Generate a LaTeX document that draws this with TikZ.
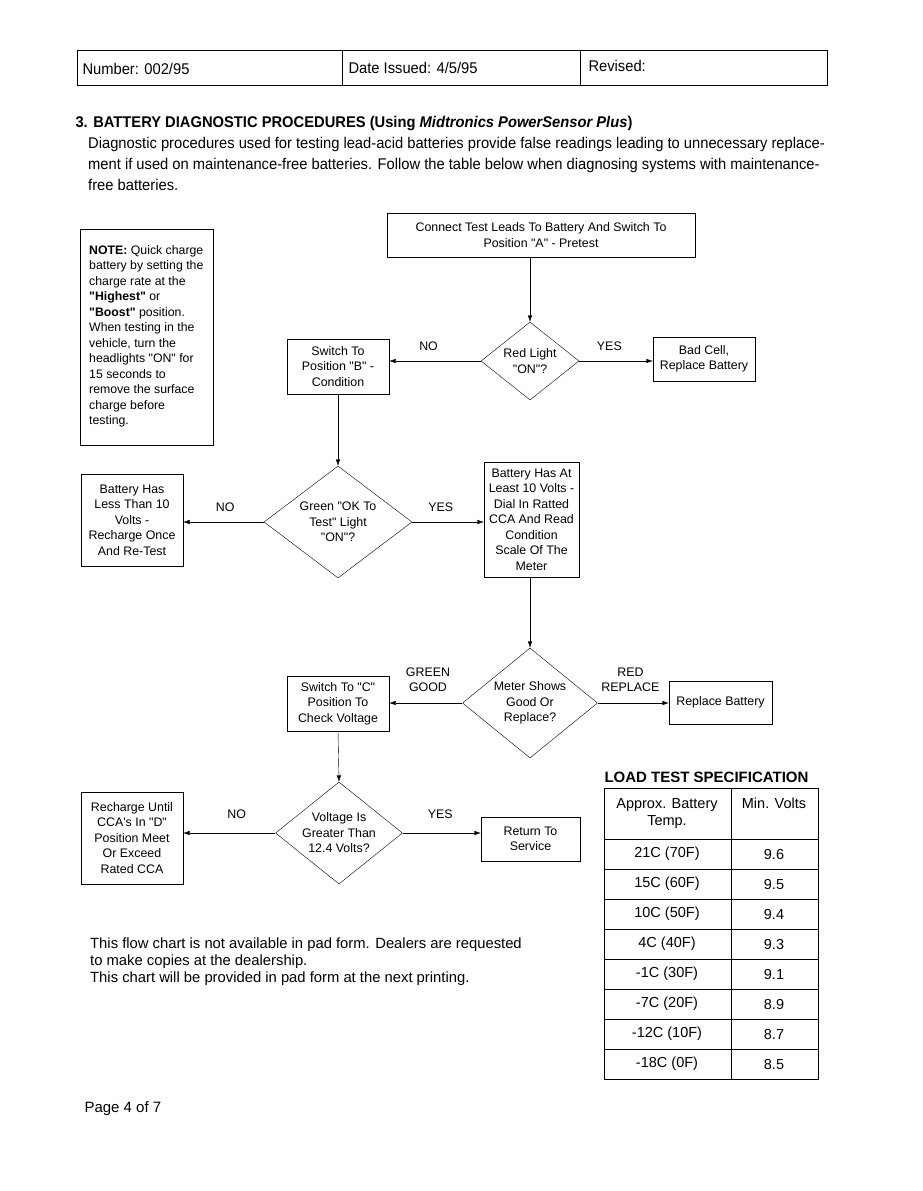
\documentclass[tikz,border=0pt]{standalone}
\usepackage{fontspec}
\setmainfont{Liberation Sans}[Ligatures=TeXOff]
\newfontfamily\narrowfont[FakeStretch=0.95,Ligatures=TeXOff]{Liberation Sans}
\usetikzlibrary{arrows.meta,calc,shapes.geometric}

\tikzset{
  stepbox/.style={draw, thin, align=center, inner sep=0pt, font=\fontsize{12.4}{15.5}\selectfont},
  query/.style={draw, thin, diamond, inner sep=0pt},
  querytext/.style={align=center, inner sep=0pt, font=\fontsize{12.4}{15.5}\selectfont},
  flow/.style={thin, -{Latex[length=6.5pt,width=4.5pt]}},
  answer/.style={font=\fontsize{12.4}{15}\selectfont, align=center},
  cell/.style={font=\fontsize{14.5}{17}\selectfont, align=center},
}
\newcommand{\stepnode}[6]{%
  % name, left, top, right, bottom, text.
  \node[stepbox, minimum width={#4-#2}, minimum height={#5-#3}] (#1) at ({(#2+#4)/2},{(#3+#5)/2}) {#6};
}
\newcommand{\querynode}[6]{%
  % name, x, y, width, height, text.
  \node[query, minimum width=#4, minimum height=#5] (#1) at (#2,#3) {};
  \node[querytext] (#1-text) at (#1) {#6};
}

\begin{document}
\begin{tikzpicture}[x=1pt,y=-1pt]
  \useasboundingbox (0,0) rectangle (923,1191);
  \fill[white] (0,0) rectangle (923,1191);

  % page header
  \draw[thin] (77,50) rectangle (827,85);
  \draw[thin] (342,50) -- (342,85);
  \draw[thin] (580,50) -- (580,85);
  \node[anchor=base west, font=\narrowfont\fontsize{15.5}{17}\selectfont] (num) at (79,74) {Number: 002/95};
  \node[anchor=base west, font=\narrowfont\fontsize{15.5}{17}\selectfont] (date) at (345,73) {Date Issued: 4/5/95};
  \node[anchor=base west, font=\narrowfont\fontsize{15.5}{17}\selectfont] (rev) at (585,71) {Revised:};

  % title and text
  \node[anchor=base west, font=\narrowfont\bfseries\fontsize{15.5}{17}\selectfont] (title) at (72,127)
    {3. BATTERY DIAGNOSTIC PROCEDURES (Using \textit{Midtronics PowerSensor Plus})};
  \node[anchor=north west, align=left, inner sep=0pt, font=\narrowfont\fontsize{15.5}{21}\selectfont] (intro) at (88,137)
    {Diagnostic procedures used for testing lead-acid batteries provide false readings leading to unnecessary replace-\\
     ment if used on maintenance-free batteries. Follow the table below when diagnosing systems with maintenance-\\
     free batteries.};

  % note
  \draw[thin] (80,229) rectangle (213,445);
  \node[anchor=north west, align=left, inner sep=0pt, font=\fontsize{12.3}{15.5}\selectfont] (note) at (89,245)
    {\textbf{NOTE:} Quick charge\\ battery by setting the\\ charge rate at the\\ \textbf{"Highest"} or\\
     \textbf{"Boost"} position.\\ When testing in the\\ vehicle, turn the\\ headlights "ON" for\\
     15 seconds to\\ remove the surface\\ charge before\\ testing.};

  % flow chart
  \stepnode{lead}{387}{213}{695}{257}{Connect Test Leads To Battery And Switch To\\Position "A" - Pretest}
  \querynode{red}{530}{361}{98}{78}{Red Light\\"ON"?}
  \stepnode{bad}{653}{337}{755}{381}{Bad Cell,\\Replace Battery}
  \stepnode{posb}{287}{339}{389}{394}{Switch To\\Position "B" -\\Condition}
  \querynode{green}{338}{522}{148}{112}{Green "OK To\\Test" Light\\"ON"?}
  \stepnode{less}{81}{474}{183}{566}{Battery Has\\Less Than 10\\Volts -\\Recharge Once\\And Re-Test}
  \stepnode{least}{484}{462}{579}{577}{Battery Has At\\Least 10 Volts -\\Dial In Ratted\\CCA And Read\\Condition\\Scale Of The\\Meter}
  \querynode{meter}{530}{703}{135}{110}{Meter Shows\\Good Or\\Replace?}
  \stepnode{posc}{287}{676}{389}{731}{Switch To "C"\\Position To\\Check Voltage}
  \stepnode{repl}{669}{681}{772}{724}{Replace Battery}
  \querynode{volt}{339}{833}{127}{102}{Voltage Is\\Greater Than\\12.4 Volts?}
  \stepnode{rech}{81}{792}{183}{884}{Recharge Until\\CCA's In "D"\\Position Meet\\Or Exceed\\Rated CCA}
  \stepnode{serv}{481}{817}{580}{861}{Return To\\Service}

  \draw[flow] (red.north |- lead.south) -- (red.north);
  \draw[flow] (red.west) -- node[answer, pos=0.57, above=7pt] (redno) {NO} (red.west -| posb.east);
  \draw[flow] (red.east) -- node[answer, pos=0.41, above=7pt] (redyes) {YES} (red.east -| bad.west);
  \draw[flow] (posb.south) -- (green.north);
  \draw[flow] (green.west) -- node[answer, pos=0.48, above=7pt] (greenno) {NO} (green.west -| less.east);
  \draw[flow] (green.east) -- node[answer, pos=0.4, above=7pt] (greenyes) {YES} (green.east -| least.west);
  \draw[flow] (meter.north |- least.south) -- (meter.north);
  \draw[flow] (meter.west) -- node[answer, pos=0.47, above=8pt] (good) {GREEN\\GOOD} (meter.west -| posc.east);
  \draw[flow] (meter.east) -- node[answer, pos=0.46, above=8pt] (bad2) {RED\\REPLACE} (meter.east -| repl.west);
  \draw[flow] (posc.south) -- (volt.north);
  \draw[flow] (volt.west) -- node[answer, pos=0.42, above=11pt] (voltno) {NO} (volt.west -| rech.east);
  \draw[flow] (volt.east) -- node[answer, pos=0.48, above=11pt] (voltyes) {YES} (volt.east -| serv.west);

  % load test table
  \node[anchor=base west, font=\bfseries\fontsize{15}{17}\selectfont] (spec) at (601,782) {LOAD TEST SPECIFICATION};
  \draw[line width=0.9pt] (604,788) rectangle (818,1079);
  \draw[line width=0.9pt] (731,788) -- (731,1079);
  \node[cell] (head1) at (667,814) {Approx. Battery\\Temp.};
  \node[cell, anchor=north] (head2) at (774,794) {Min. Volts};
  \foreach \t/\v [count=\i from 0] in {21C (70F)/9.6, 15C (60F)/9.5, 10C (50F)/9.4, 4C (40F)/9.3,
      -1C (30F)/9.1, -7C (20F)/8.9, -12C (10F)/8.7, -18C (0F)/8.5}{%
    \draw[line width=0.9pt] (604,{839+\i*30}) -- (818,{839+\i*30});
    \node[cell] (temp\i) at (667,{854+\i*30}) {\t};
    \node[cell] (volt\i) at (774,{854+\i*30}) {\v};
  }

  % footer
  \node[anchor=north west, align=left, inner sep=0pt, font=\fontsize{14.8}{17}\selectfont] (pad) at (90,938)
    {This flow chart is not available in pad form. Dealers are requested\\
     to make copies at the dealership.\\
     This chart will be provided in pad form at the next printing.};
  \node[anchor=base west, font=\fontsize{15}{17}\selectfont] (page) at (81,1112) {Page 4 of 7};
\end{tikzpicture}
\end{document}
